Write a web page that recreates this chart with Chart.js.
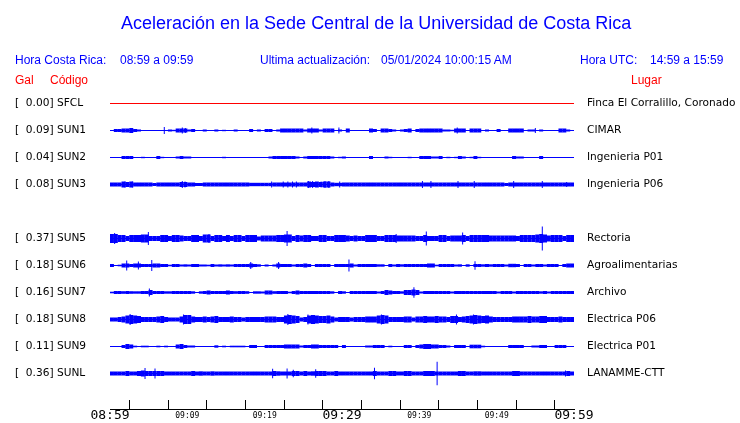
<!DOCTYPE html>
<html>
<head>
<meta charset="utf-8">
<script src="https://cdn.jsdelivr.net/npm/chart.js@4/dist/chart.umd.min.js"></script>
<style>
  html, body { margin: 0; padding: 0; background: #fff; }
  #wrap { position: relative; width: 740px; height: 423px; overflow: hidden; }
  #c { position: absolute; left: 0; top: 0; }
  .t { position: absolute; white-space: pre; font-family: "Liberation Sans", Arial, sans-serif; line-height: 1; }
  .blue { color: #0000ff; }
  .red { color: #ff0000; }
</style>
</head>
<body>
<div id="wrap">
  <canvas id="c" width="740" height="423"></canvas>
  <div class="t blue" style="left:121px; top:14px; font-size:18px;">Aceleración en la Sede Central de la Universidad de Costa Rica</div>
  <div class="t blue" style="left:15px; top:54px; font-size:12px;">Hora Costa Rica:</div>
  <div class="t blue" style="left:120px; top:54px; font-size:12px;">08:59 a 09:59</div>
  <div class="t blue" style="left:260px; top:54px; font-size:12px;">Ultima actualización:</div>
  <div class="t blue" style="left:381px; top:54px; font-size:12px;">05/01/2024 10:00:15 AM</div>
  <div class="t blue" style="left:580px; top:54px; font-size:12px;">Hora UTC:</div>
  <div class="t blue" style="left:650px; top:54px; font-size:12px;">14:59 a 15:59</div>
  <div class="t red" style="left:15px; top:74px; font-size:12px;">Gal</div>
  <div class="t red" style="left:50px; top:74px; font-size:12px;">Código</div>
  <div class="t red" style="left:631px; top:74px; font-size:12px;">Lugar</div>
</div>
<script>
// ---------- data ----------
const codes  = ['SFCL','SUN1','SUN2','SUN3','SUN5','SUN6','SUN7','SUN8','SUN9','SUNL'];
const gal    = [0.00, 0.09, 0.04, 0.08, 0.37, 0.18, 0.16, 0.18, 0.11, 0.36];
const places = ['Finca El Corralillo, Coronado','CIMAR','Ingenieria P01','Ingenieria P06',
                'Rectoria','Agroalimentarias','Archivo','Electrica P06','Electrica P01','LANAMME-CTT'];
const timeTickLabels = ['08:59','09:09','09:19','09:29','09:39','09:49','09:59'];

// envelope half-amplitude per half-minute bin (120 bins, 08:59 -> 09:59)
const sun1 = [0,1.5,1.5,2,2,2.5,1.5,1,0,0, 0,0,0,0,0,1,0.7,2,2,2,
  1,1.5,0,0,1,0,0,1,0,0.7, 0,0,1,0,0,0,1.5,0,1,0,
  1.5,1.5,0,1,2,2,2,2,2,2, 1,2,2,2,1,2,2,2,0.5,1,
  0,2,0,0,0,0,0,2,1.5,0, 2,2,1.5,1,0,1,1.5,2,0,1.5,
  2,2,2,2,2,2,1,1,0.7,2, 2,2,0,2,2,2,0,1,0,0,
  1.5,0,0,2,2,2,2,0,1,1, 0,1,0,0,0,0,2,2,1,0];
const sun2 = [0,0,0,1.5,1.5,1.5,0,0,0.7,0, 0,0,1.5,0.7,0,0,0,1,1.5,1,
  1,0,0,0,0,0,0,0,0,0.7, 0,0,0,0,0,0,0,0.5,0,0,
  0,1,1.5,1.5,1.5,1.5,1.5,1.5,1,0, 1,1.5,1.5,1.5,1.5,1.5,1.5,1,0,0.7,
  1,0.5,0.5,0,0,0,0,1.5,0,0, 0,1,0.7,0,0.5,0,0,0.7,0,0,
  1.5,1.5,1.5,1,1,1.5,0,0.7,0,0.7, 1.5,1,0,0.7,1.5,0.7,0,0,0,0,
  0,0,0,0,1.5,1,1,0,0,0, 0.5,1.5,0,0,0,0,0,0,0.5,0];
const sun3 = [2,2,2,3,2.5,3,2,2,2,2, 2,1.5,2,2,2,2,2,2,2.5,2.5,
  2,2,1.5,1.5,2,2,2,2,2,2, 2,2,2,2,2,2,1.7,1.7,1.7,1.7,
  1.7,1.7,2,2,2,2,2,2,2,2, 2,3,2.5,3,2.5,3,3,2,1.7,1.7,
  2,2,2,2,2,2,2,2,2,2, 2,2,2,2,2,2,2,2,2,2,
  2,2,2,2,2,2,2,2,2,2, 2,2,2,2,2,2,2,2,2,2,
  2,2,1.5,2,2,2,2,2,2,2, 2,2,2,2,2,2,2,2,2,2];
const sun5 = [4.5,4.5,3.5,3.5,2.5,3.5,3.5,3.5,4,4, 2.5,2.5,2.5,3.5,3.5,2.5,3.5,3.5,3,2.5,
  2.5,3.5,3.5,2.5,4,4,2.5,3.5,3.5,2.5, 3.5,2.5,3.5,3.5,2.5,3.5,3.5,3.5,2,3,
  3,3,3,3.5,3.5,4,4,2.5,3.5,3, 3.5,3.5,2.5,2.5,3.5,3.5,2.5,2.5,3.5,3.5,
  3.5,3,2.5,3,2.5,2.5,3.5,3.5,3.5,2.5, 2.5,3.5,3.5,3.5,3,3,3,3,3,2.5,
  2.5,3.5,2.5,2.5,2.5,3.5,3.5,2.5,3,3, 3,3.5,2.5,3.5,3.5,3.5,3.5,3.5,3,3,
  3,3,3,3,3,2.5,3.5,3.5,3.5,3.5, 4,4.5,4,3,3.5,3.5,3.5,2.5,3.5,3.5];
const sun6 = [1.5,0.5,0.8,2,2,1.5,2,2,1.5,1.5, 1.5,2,2,1.5,1.5,0.8,1.5,1.5,1,1.2,
  1,1.5,1.5,1,1,0.8,1.5,1,1.2,1, 1.2,1,1.5,1.5,1.5,1.5,2,1.5,1.2,0.5,
  1,0.5,1,2,1.5,1.5,1.5,1,1.5,1.5, 2,1.5,0.5,1.5,1.5,1.5,1.5,0.5,1.5,1.5,
  1.5,1.5,2,1,1.5,1.5,1.5,1.5,1.5,1.2, 1.2,0.5,1.5,1,1.5,1.2,1.5,1.5,1.5,1.5,
  1.5,1.5,2,2,0.8,1.5,1.5,1.5,1.5,1, 1.2,0.5,1.2,0.5,1.5,1.5,1.2,1.5,1.2,1.5,
  1.5,1.5,1,1.7,1.7,1.5,0.5,1.5,1.5,1, 1.5,1.5,1,1.5,1.5,1.5,0.5,1.5,2,2];
const sun7 = [0.8,1.5,1.5,1.3,1.5,1.3,1.2,1.2,1.5,1.5, 2.5,1.5,1.5,1.5,1.2,1.2,1.5,1.5,1.5,1.5,
  1.5,1.2,0.3,1.2,1.5,2,1.5,1.5,1.5,1.5, 2,1.5,1.3,1.5,1.5,1.3,0.5,1.2,1.2,1,
  2,2,1.3,1.5,1.5,1.5,0.8,1.5,2,1.5, 1.5,1.5,1.5,1.5,1.5,1.5,1.5,1.2,0.3,1.5,
  1.2,0.3,1.5,1.5,1.5,1.5,1.5,1.5,1.5,1, 1.5,2.5,2,1.5,1.5,1.2,2.5,2.5,3,2.5,
  1,1.5,1.5,1.5,1.5,1.5,1.5,1.5,1,1.5, 1.5,1.5,1.5,1.5,1.5,1.5,1.5,1.5,1.5,1.5,
  1,1.5,1.5,1.5,1,1.5,1.5,1.5,1.5,1.5, 1.5,1.2,1.5,1,1.5,1.5,1.5,1.5,1.5,1.5];
const sun8 = [2,2,2.5,3,4,4.5,4,3.5,2.5,2.5, 2.5,2.5,3,3.5,2.5,2,2,2,3,4.5,
  4.5,3,2.5,2.5,3,2.5,3,3.5,2.5,2.5, 2.5,3,2.5,2.5,2,2.5,2.5,2.5,2.5,2.5,
  3,3,3,2.5,2.5,4,4.5,4,3.5,2, 2.5,4,4.5,4,3.5,3.5,4,3,2,2.5,
  2.5,2.5,2,2.5,2.5,2.5,3,3,3,4, 4.5,4,2.5,2.5,2.5,2.5,3,3,2,3,
  3,3.5,3,3,3.5,3,3,2.5,3.5,3.5, 2.5,3,3.5,4,4.5,4,3.5,4,3,2.5,
  2.5,2.5,2.5,2.5,3,3,3,3,3.5,3, 3,3.5,3.5,2.5,2.5,2.5,3,2.5,2.5,2.5];
const sun9 = [0,0,0,1.5,2.5,2,0.8,0,0.8,0.8, 0,0,0.8,0,0.8,0,0,2,2.5,1.5,
  1,1,0,0,0,0,0,1.2,0.5,0.8, 0,0.8,0.8,0.8,0.8,0,1.5,1.5,0,0,
  1.5,1.5,1.5,1.5,1.5,2,2,2,2,1, 1.5,1.5,2,2,1.5,1.5,1.5,1.5,1.5,0,
  1.5,0,0,0,0,0,1,1,1.5,1.5, 1.5,0.5,0.8,0,0.5,0,1.5,1.5,0,1.5,
  2,2.5,2.5,2,2,1.5,1.5,1,0,1.5, 1.5,1.5,0,1.8,1.8,1.8,0.8,0,0,0,
  0,0,0,1.5,1.5,1.5,1.5,0,0,1, 1,1.5,1.5,0,0,1.5,1.5,1.5,0,0];
const sunL = [2,2,2,2,2.5,2,2,2.5,3,2.5, 2.5,2.5,2.5,2.5,2,2,2,2,2,2,
  2,2.5,2,2.2,2,2,2.2,2,2,2, 2,2,2,2,2,2,2,2,2,2,
  2,2,2.5,2.2,2,2,2,2.5,2.5,2, 2.5,2,2.2,2.5,2.5,2.5,2,2,2.5,2,
  2,2,2,2,2,2,2,2,2.5,2, 2,2,2.5,2.5,2,2,2.5,2.5,2,2,
  2,2.5,2.5,2.5,2,2,2,2,2,2, 2.5,2.5,2,2,2.2,2.2,2,2,2,2,
  2,2,2,2,2.5,2.5,2,2,2,2, 2,2,2,2,2,2,2,2,2.5,2];

// isolated spikes: [minute after 08:59, half-amplitude]
const sun1Spikes = [[7.02,3.5],[9.35,3],[9.74,2.5],[26.1,3],[29.6,3],[44.9,3],[55.0,2.5]];
const sun2Spikes = [];
const sun3Spikes = [[1.94,3],[2.89,3],[9.35,3.5],[9.7,3],[20.9,3],[22.4,3],[23,3],[23.6,3],[24.1,3],
  [25.65,3.5],[26.2,3.5],[27.3,3],[27.8,3.5],[28.3,3.5],[29.7,3],[40.4,3.5],[41.5,3.5],[45,3.5],
  [47.1,3.5],[52.2,3.5],[55.9,3.5],[59.05,2.5]];
const sun5Spikes = [[0.6,5.5],[4.96,6.5],[12.8,4.5],[22.9,7.5],[37,4.5],[40.9,7],[45.6,6],[55.9,12]];
const sun6Spikes = [[2.16,5],[3.67,4],[5.4,5.5],[18.2,3.5],[21.8,3.5],[30.9,6],[47.2,4.2]];
const sun7Spikes = [[5.09,4],[39.3,5.3]];
const sun8Spikes = [[2.6,5.5],[9.5,5],[23,5.5],[25.6,5],[35.1,5],[44.8,5],[47,5]];
const sun9Spikes = [];
const sunLSpikes = [[4.53,5.5],[5.82,5],[21.03,4.7],[22.9,5],[23.7,3.7],[26.6,4.3],[34.2,5.7],[42.3,11.7],[58.9,3]];

// ---------- layout / style ----------
const envelopes = [null, sun1, sun2, sun3, sun5, sun6, sun7, sun8, sun9, sunL];
const spikes = [[], sun1Spikes, sun2Spikes, sun3Spikes, sun5Spikes, sun6Spikes, sun7Spikes, sun8Spikes, sun9Spikes, sunLSpikes];
const rowSlot = [0,1,2,3,5,6,7,8,9,10];   // row 4 (SUN4) is empty
const SPACING = 27;
const BIN = 0.5;           // minutes per envelope bin
const DURATION = 60;       // minutes
const BLUE = '#0000ff';
const RED = '#ff0000';

const slotValue = i => rowSlot[i] * SPACING;
const datasets = [];
codes.forEach((code, i) => {
  const yc = slotValue(i);
  const color = i === 0 ? RED : BLUE;
  datasets.push({
    type: 'line', data: [{x: 0, y: yc}, {x: DURATION, y: yc}],
    borderColor: color, borderWidth: 1, pointRadius: 0, fill: false
  });
  if (envelopes[i]) {
    const pts = [];
    envelopes[i].forEach((a, b) => { if (a > 0) pts.push({x: b * BIN + BIN / 2, y: [yc - a, yc + a]}); });
    datasets.push({ type: 'bar', data: pts, backgroundColor: color, borderWidth: 0,
      barThickness: 4, grouped: false, inflateAmount: 0 });
  }
  if (spikes[i].length) {
    datasets.push({ type: 'bar', data: spikes[i].map(([m, a]) => ({x: m, y: [yc - a, yc + a]})),
      backgroundColor: color, borderWidth: 0, barThickness: 1, grouped: false, inflateAmount: 0 });
  }
});

const labelByValue = {};
const placeByValue = {};
codes.forEach((c, i) => {
  labelByValue[slotValue(i)] = '[  ' + gal[i].toFixed(2) + '] ' + c;
  placeByValue[slotValue(i)] = places[i];
});
const setRowTicks = scale => { scale.ticks = codes.map((c, i) => ({value: slotValue(i)})); };
const labelFont = { family: 'DejaVu Sans', size: 10.6 };

new Chart(document.getElementById('c'), {
  data: { datasets },
  options: {
    responsive: false,
    animation: false,
    events: [],
    layout: { padding: { top: 90, left: 15, right: 0, bottom: 0 } },
    plugins: { legend: { display: false }, tooltip: { enabled: false }, title: { display: false } },
    scales: {
      x: {
        type: 'linear', position: 'bottom', min: 0, max: DURATION, offset: false,
        grid: { display: true, drawOnChartArea: false, drawTicks: true, tickLength: -9, color: '#000', lineWidth: 1 },
        border: { display: true, color: '#000', width: 1 },
        ticks: {
          stepSize: 5, autoSkip: false, maxRotation: 0, minRotation: 0, padding: 8, color: '#000',
          callback: v => (v % 10 === 0 ? timeTickLabels[v / 10] : ''),
          font: ctx => (ctx.tick && ctx.tick.value % 30 === 0)
            ? { family: 'DejaVu Sans Mono', size: 13, lineHeight: '16px' }
            : { family: 'DejaVu Sans Mono', size: 8, lineHeight: '15px' }
        },
        afterFit: s => { s.height = 14; }
      },
      y: {
        type: 'linear', position: 'left', reverse: true, min: -13.5, max: 305.5,
        grid: { display: false }, border: { display: false },
        afterBuildTicks: setRowTicks,
        ticks: { autoSkip: false, crossAlign: 'far', padding: 0, color: '#000', font: labelFont,
          callback: v => labelByValue[v] || '' },
        afterFit: s => { s.width = 95; s.paddingTop = 0; s.paddingBottom = 0; }
      },
      y2: {
        type: 'linear', position: 'right', reverse: true, min: -13.5, max: 305.5,
        grid: { display: false, drawTicks: false }, border: { display: false },
        afterBuildTicks: setRowTicks,
        ticks: { autoSkip: false, crossAlign: 'near', padding: 13, color: '#000', font: labelFont,
          callback: v => placeByValue[v] || '' },
        afterFit: s => { s.width = 166; s.paddingTop = 0; s.paddingBottom = 0; }
      }
    }
  }
});
</script>
</body>
</html>
